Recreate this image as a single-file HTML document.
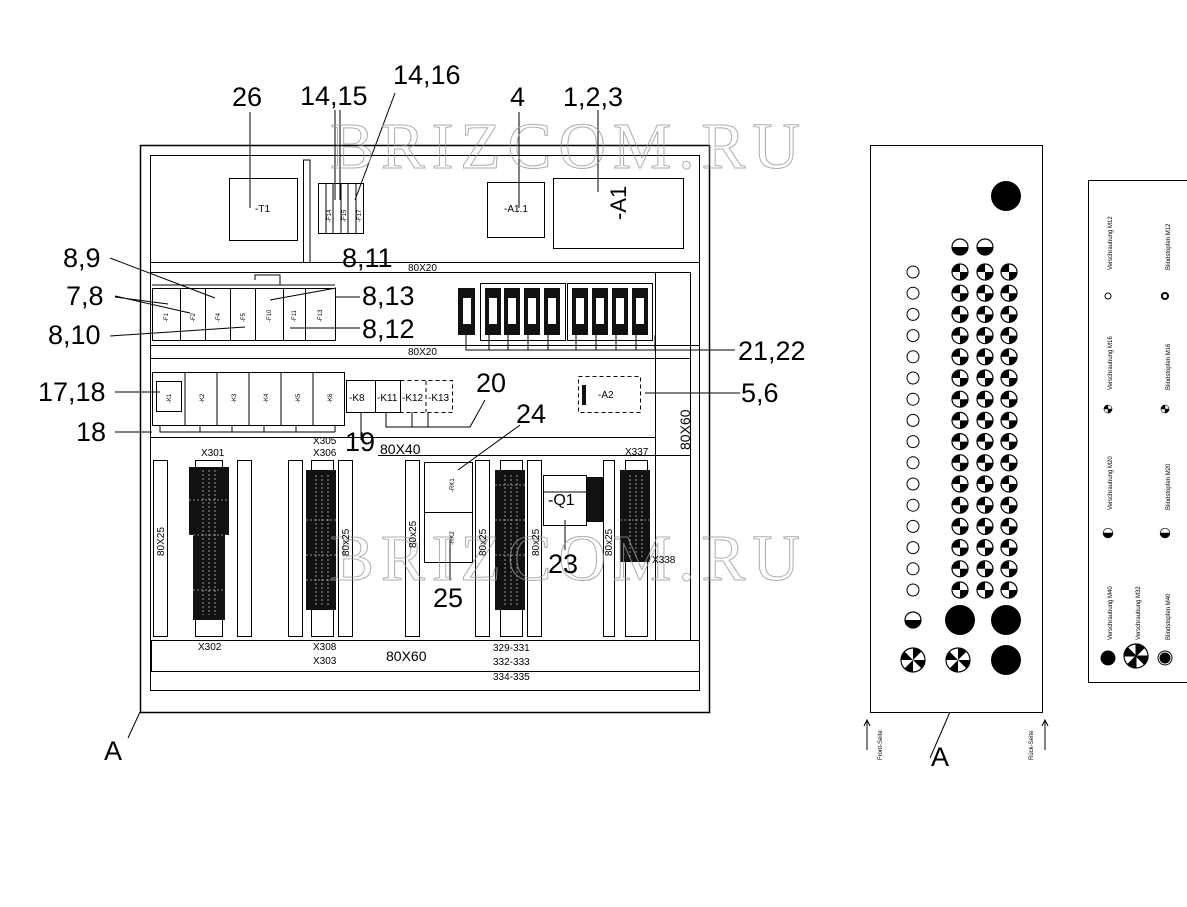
<!DOCTYPE html>
<html><head><meta charset="utf-8"><style>
html,body{margin:0;padding:0;background:#fff}
svg{display:block}
text{font-family:"Liberation Sans",Arial,sans-serif;fill:#000}
text.wm{font-family:"Liberation Serif",serif;fill:none;stroke:#999}
</style></head><body>
<svg id="s" width="1187" height="907" viewBox="0 0 1187 907" xmlns="http://www.w3.org/2000/svg">
<defs>
<g id="q"><circle r="8" fill="#fff" stroke="#000" stroke-width="1.2"/><path d="M0 0V-8A8 8 0 0 0 -8 0Z M0 0V8A8 8 0 0 0 8 0Z" fill="#000"/></g>
<g id="h"><circle r="8" fill="#fff" stroke="#000" stroke-width="1.2"/><path d="M-8 0H8A8 8 0 0 1 -8 0Z" fill="#000"/></g>
<g id="star"><circle r="12" fill="#fff" stroke="#000" stroke-width="1.2"/><path d="M0 0L0 -12A12 12 0 0 1 8.5 -8.5Z M0 0L12 0A12 12 0 0 1 8.5 8.5Z M0 0L0 12A12 12 0 0 1 -8.5 8.5Z M0 0L-12 0A12 12 0 0 1 -8.5 -8.5Z" fill="#000"/></g>
</defs>
<g fill="none" stroke="#000" stroke-width="1">
<rect x="140.5" y="145.5" width="569" height="567" stroke-width="1.5"/>
<rect x="150.5" y="155.5" width="549" height="535"/>
<rect x="229.5" y="178.5" width="68" height="62"/>
<path d="M303.5 262V160H310V262"/>
<rect x="318.5" y="183.5" width="45" height="50"/>
<path d="M326 184V233M333 184V233M341 184V233M348 184V233M356 184V233"/>
<rect x="487.5" y="182.5" width="57" height="55"/>
<rect x="553.5" y="178.5" width="130" height="70"/>
<path d="M150 262.5H700M150 272.5H690"/>
<path d="M152 285H335M255 280V275H280V285"/>
<rect x="152.5" y="288.5" width="28" height="52"/>
<rect x="180.5" y="288.5" width="25" height="52"/>
<rect x="205.5" y="288.5" width="25" height="52"/>
<rect x="230.5" y="288.5" width="25" height="52"/>
<rect x="255.5" y="288.5" width="28" height="52"/>
<rect x="283.5" y="288.5" width="22" height="52"/>
<rect x="305.5" y="288.5" width="30" height="52"/>
<path d="M150 345.5H700M150 358.5H690"/>
<rect x="480.5" y="283.5" width="85" height="57"/>
<rect x="567.5" y="283.5" width="85" height="57"/>
<path d="M466 335V350H655V335M489 335V350M508 335V350M528 335V350M548 335V350M576 335V350M596 335V350M616 335V350M636 335V350"/>
<path d="M655.5 272V640M690.5 272V640"/>
<rect x="152.5" y="372.5" width="192" height="53"/>
<rect x="156.5" y="381.5" width="25" height="30"/>
<path d="M185 373V425M217 373V425M249 373V425M281 373V425M313 373V425"/>
<rect x="346.5" y="380.5" width="29" height="32"/>
<rect x="375.5" y="380.5" width="25" height="32"/>
<rect x="400.5" y="380.5" width="52" height="32" stroke-dasharray="4 3"/>
<path d="M426 381V412" stroke-dasharray="4 3"/>
<rect x="578.5" y="376.5" width="62" height="36" stroke-dasharray="4 3"/>
<path d="M160 425V432H335M200 425V432M232 425V432M264 425V432M296 425V432M335 425V432"/>
<path d="M386 412V427H440M412 412V427M428 412V427M361 412V440"/>
<path d="M150 437.5H655M378 455.5H690"/>
<rect x="153.5" y="460.5" width="14" height="176"/>
<rect x="237.5" y="460.5" width="14" height="176"/>
<rect x="288.5" y="460.5" width="14" height="176"/>
<rect x="338.5" y="460.5" width="14" height="176"/>
<rect x="405.5" y="460.5" width="14" height="176"/>
<rect x="475.5" y="460.5" width="14" height="176"/>
<rect x="527.5" y="460.5" width="14" height="176"/>
<rect x="603.5" y="460.5" width="11" height="176"/>
<path d="M655.5 455V640"/>
<rect x="195.5" y="460.5" width="27" height="176"/>
<rect x="311.5" y="460.5" width="22" height="176"/>
<rect x="500.5" y="460.5" width="22" height="176"/>
<rect x="625.5" y="460.5" width="22" height="176"/>
<rect x="424.5" y="462.5" width="48" height="50"/>
<rect x="424.5" y="512.5" width="48" height="50"/>
<rect x="543.5" y="475.5" width="43" height="50"/>
<path d="M543 492H587"/>
<rect x="151.5" y="640.5" width="548" height="31"/>
</g>
<g fill="#111">
<rect x="189" y="467" width="40" height="68"/>
<rect x="193" y="535" width="32" height="85"/>
<rect x="306" y="470" width="30" height="140"/>
<rect x="495" y="470" width="30" height="140"/>
<rect x="620" y="470" width="30" height="92"/>
<rect x="587" y="477" width="16" height="45"/>
<rect x="458" y="288" width="17" height="47"/>
<rect x="485" y="288" width="16" height="47"/><rect x="504" y="288" width="16" height="47"/><rect x="524" y="288" width="16" height="47"/><rect x="544" y="288" width="16" height="47"/>
<rect x="572" y="288" width="16" height="47"/><rect x="592" y="288" width="16" height="47"/><rect x="612" y="288" width="16" height="47"/><rect x="632" y="288" width="16" height="47"/>
<rect x="582" y="385" width="4" height="20"/>
</g>
<g fill="#fff">
<rect x="463" y="298" width="8" height="26"/><rect x="489" y="298" width="8" height="26"/><rect x="508" y="298" width="8" height="26"/><rect x="528" y="298" width="8" height="26"/><rect x="548" y="298" width="8" height="26"/><rect x="576" y="298" width="8" height="26"/><rect x="596" y="298" width="8" height="26"/><rect x="616" y="298" width="8" height="26"/><rect x="636" y="298" width="8" height="26"/>
</g>
<g stroke="#fff" stroke-width="0.8" stroke-dasharray="2 2" opacity=".7">
<path d="M203 470V615M209 470V615M215 470V615M316 475V605M322 475V605M328 475V605M505 475V605M511 475V605M517 475V605M630 475V558M636 475V558M642 475V558"/>
<path d="M189 500H229M189 535H229M193 590H225M306 520H336M306 555H336M306 580H336M495 485H525M495 520H525M495 555H525M620 520H650"/>
</g>
<g stroke="#000" stroke-width="1" fill="none">
<path d="M250 112V208M335 110V200M340 110V200M395 93L355 200M519 112V208M598 110V192"/>
<path d="M110 258L215 298M115 296L190 313M115 297L168 304M110 336L245 327M336 288L270 300M335 297L360 297M290 328L360 328"/>
<path d="M115 392L160 392M115 432L152 432M485 400L470 427L440 427M362 440V432"/>
<path d="M655 350L735 350M645 393L740 393M520 425L458 470M450 540V580M565 520V550"/>
<path d="M128 738L140 712M930 758L950 712"/>
</g>
<g font-size="66" opacity=".8">
<text class="wm" x="330" y="168" textLength="470">BRIZCOM.RU</text>
<text class="wm" x="330" y="580" textLength="470">BRIZCOM.RU</text>
</g>
<g font-size="27">
<text x="232" y="106">26</text><text x="300" y="105">14,15</text><text x="393" y="84">14,16</text>
<text x="510" y="106">4</text><text x="563" y="106">1,2,3</text>
<text x="63" y="267">8,9</text><text x="66" y="305">7,8</text><text x="48" y="344">8,10</text>
<text x="342" y="267">8,11</text><text x="362" y="305">8,13</text><text x="362" y="338">8,12</text>
<text x="738" y="360">21,22</text><text x="38" y="401">17,18</text><text x="76" y="441">18</text>
<text x="476" y="392">20</text><text x="516" y="423">24</text><text x="741" y="402">5,6</text>
<text x="345" y="451">19</text><text x="548" y="573">23</text><text x="433" y="607">25</text>
<text x="104" y="760">A</text><text x="931" y="766">A</text>
</g>
<g font-size="14"><text x="380" y="454">80X40</text><text x="386" y="661">80X60</text>
<text x="690" y="450" transform="rotate(-90 690 450)">80X60</text>
<text x="606" y="220" font-size="22" transform="rotate(-90 616 210)">-A1</text></g>
<g font-size="10">
<text x="408" y="271">80X20</text><text x="408" y="355">80X20</text>
<text x="255" y="212">-T1</text><text x="504" y="212">-A1.1</text>
<text x="349" y="401">-K8</text><text x="377" y="401">-K11</text><text x="402" y="401">-K12</text><text x="428" y="401">-K13</text>
<text x="598" y="398">-A2</text><text x="548" y="505" font-size="16">-Q1</text>
<text x="201" y="456">X301</text><text x="313" y="444">X305</text><text x="313" y="456">X306</text><text x="625" y="455">X337</text>
<text x="652" y="563">X338</text><text x="198" y="650">X302</text><text x="313" y="650">X308</text><text x="313" y="664">X303</text>
<text x="493" y="651">329-331</text><text x="493" y="665">332-333</text><text x="493" y="680">334-335</text>
</g>
<g font-size="10">
<text transform="translate(164 556) rotate(-90)">80X25</text>
<text transform="translate(349 556) rotate(-90)">80x25</text>
<text transform="translate(416 548) rotate(-90)">80x25</text>
<text transform="translate(486 556) rotate(-90)">80x25</text>
<text transform="translate(539 556) rotate(-90)">80x25</text>
<text transform="translate(612 556) rotate(-90)">80x25</text>
</g>
<g font-size="6">
<text transform="translate(168 322) rotate(-90)">-F1</text><text transform="translate(195 322) rotate(-90)">-F2</text><text transform="translate(220 322) rotate(-90)">-F4</text><text transform="translate(245 322) rotate(-90)">-F5</text><text transform="translate(271 322) rotate(-90)">-F10</text><text transform="translate(296 322) rotate(-90)">-F11</text><text transform="translate(322 322) rotate(-90)">-F13</text>
<text transform="translate(331 222) rotate(-90)">-F14</text><text transform="translate(346 222) rotate(-90)">-F15</text><text transform="translate(361 222) rotate(-90)">-F17</text>
<text transform="translate(171 403) rotate(-90)">-K1</text><text transform="translate(204 403) rotate(-90)">-K2</text><text transform="translate(236 403) rotate(-90)">-K3</text><text transform="translate(268 403) rotate(-90)">-K4</text><text transform="translate(300 403) rotate(-90)">-K5</text><text transform="translate(332 403) rotate(-90)">-K6</text>
<text transform="translate(454 492) rotate(-90)">-RK1</text><text transform="translate(454 545) rotate(-90)">-RK2</text>
</g>
<rect x="870.5" y="145.5" width="172" height="567" fill="none" stroke="#000"/>
<g id="circ"></g>
<g stroke="#000" fill="none"><path d="M867 750V720M864 726L867 720L870 726M1045 750V720M1042 726L1045 720L1048 726"/></g>
<g font-size="6"><text transform="translate(882 760) rotate(-90)">Front-Seite</text><text transform="translate(1033 760) rotate(-90)">Rück-Seite</text></g>
<rect x="1088.5" y="180.5" width="110" height="502" fill="none" stroke="#000"/>
<g font-size="6">
<text transform="translate(1112 640) rotate(-90)">Verschraubung M40</text>
<text transform="translate(1140 640) rotate(-90)">Verschraubung M32</text>
<text transform="translate(1170 640) rotate(-90)">Blindstopfen M40</text>
<text transform="translate(1112 510) rotate(-90)">Verschraubung M20</text>
<text transform="translate(1170 510) rotate(-90)">Blindstopfen M20</text>
<text transform="translate(1112 390) rotate(-90)">Verschraubung M16</text>
<text transform="translate(1170 390) rotate(-90)">Blindstopfen M16</text>
<text transform="translate(1112 270) rotate(-90)">Verschraubung M12</text>
<text transform="translate(1170 270) rotate(-90)">Blindstopfen M12</text>
</g>
<g stroke="#000">
<circle cx="1108" cy="658" r="7" fill="#000"/>
<use href="#star" transform="translate(1136 656)"/>
<circle cx="1165" cy="658" r="7" fill="#fff"/><circle cx="1165" cy="658" r="5" fill="#000"/>
<use href="#h" transform="translate(1108 533) scale(.6)"/><use href="#h" transform="translate(1165 533) scale(.6)"/>
<use href="#q" transform="translate(1108 409) scale(.5)"/><use href="#q" transform="translate(1165 409) scale(.5)"/>
<circle cx="1108" cy="296" r="3" fill="#fff"/><circle cx="1165" cy="296" r="3" fill="#fff" stroke-width="2"/>
</g>
</svg>
<script>
(function(){var g=document.getElementById('circ'),h='';
h+='<circle cx="1006" cy="196" r="15"/>';
h+='<use href="#h" x="960" y="247"/><use href="#h" x="985" y="247"/>';
for(var i=0;i<16;i++){var y=272+i*21.2;
h+='<circle cx="913" cy="'+y+'" r="6" fill="#fff" stroke="#000"/>';
[960,985,1009].forEach(function(x){h+='<use href="#q" x="'+x+'" y="'+y+'"/>';});}
h+='<use href="#h" x="913" y="620"/><circle cx="960" cy="620" r="15"/><circle cx="1006" cy="620" r="15"/>';
h+='<use href="#star" x="913" y="660"/><use href="#star" x="958" y="660"/><circle cx="1006" cy="660" r="15"/>';
g.innerHTML=h;})();
</script>
</body></html>
